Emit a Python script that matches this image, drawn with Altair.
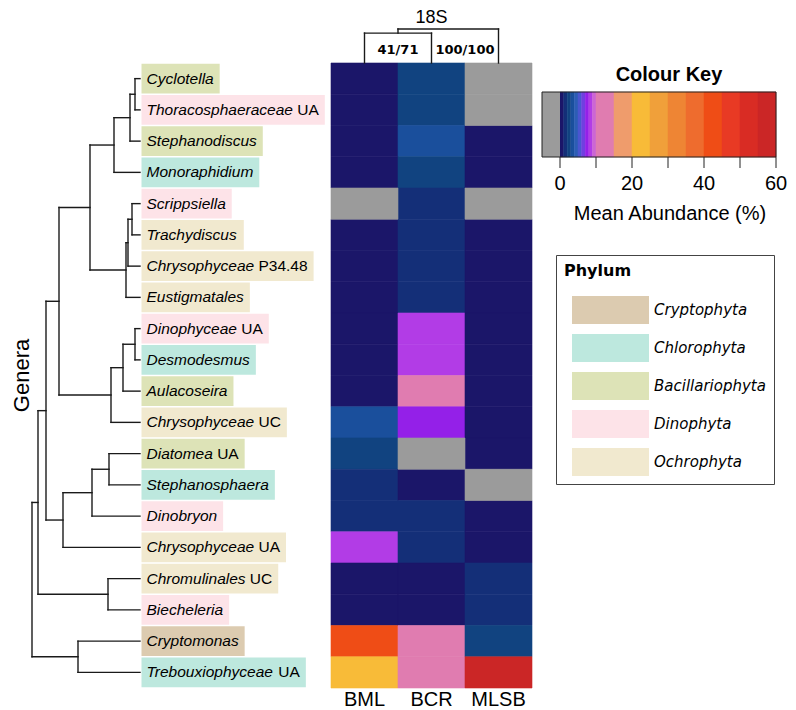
import altair as alt
import pandas as pd

# ---------------- data ----------------
genera = ["Cyclotella", "Thoracosphaeraceae", "Stephanodiscus", "Monoraphidium",
          "Scrippsiella", "Trachydiscus", "Chrysophyceae", "Eustigmatales",
          "Dinophyceae", "Desmodesmus", "Aulacoseira", "Chrysophyceae",
          "Diatomea", "Stephanosphaera", "Dinobryon", "Chrysophyceae",
          "Chromulinales", "Biecheleria", "Cryptomonas", "Trebouxiophyceae"]
suffixes = ["", "UA", "", "", "", "", "P34.48", "", "UA", "", "", "UC",
            "UA", "", "", "UA", "UC", "", "", "UA"]
genus_phylum = ["Bacillariophyta", "Dinophyta", "Bacillariophyta", "Chlorophyta",
                "Dinophyta", "Ochrophyta", "Ochrophyta", "Ochrophyta",
                "Dinophyta", "Chlorophyta", "Bacillariophyta", "Ochrophyta",
                "Bacillariophyta", "Chlorophyta", "Dinophyta", "Ochrophyta",
                "Ochrophyta", "Dinophyta", "Cryptophyta", "Chlorophyta"]

phyla = ["Cryptophyta", "Chlorophyta", "Bacillariophyta", "Dinophyta", "Ochrophyta"]
phylum_colors = ["#dccbb0", "#bde8de", "#dde3b7", "#fde3e8", "#f1e9cf"]

samples = ["BML", "BCR", "MLSB"]
# mean abundance (%) per genus, None = not detected (grey)
BML = [0.5, 0.5, 0.5, 0.5, None, 0.5, 0.5, 0.5, 0.5, 0.5,
       0.5, 3.5, 2.5, 1.5, 1.5, 8.5, 0.5, 0.5, 42, 22]
BCR = [2.5, 2.5, 3.5, 2.5, 1.5, 1.5, 1.5, 1.5, 8.5, 8.5,
       12, 7.5, None, 0.5, 1.5, 1.5, 0.5, 0.5, 12, 12]
MLSB = [None, None, 0.5, 0.5, None, 0.5, 0.5, 0.5, 0.5, 0.5,
        0.5, 0.5, 0.5, None, 0.5, 0.5, 1.5, 1.5, 2.5, 57]

# row dendrogram merges: (left, right, height); ints = leaves, "nK" = K-th merge
row_merges = [(0, 1, 0.05), ("n0", 2, 0.10), ("n1", 3, 0.26),
              (4, 5, 0.08), ("n3", 6, 0.12), ("n4", 7, 0.14),
              ("n2", "n5", 0.50),
              (8, 9, 0.05), ("n7", 10, 0.17), ("n8", 11, 0.29),
              ("n6", "n9", 0.81),
              (12, 13, 0.31), ("n11", 14, 0.48), ("n12", 15, 0.77),
              ("n10", "n13", 0.94),
              (16, 17, 0.32), ("n14", "n15", 1.02),
              (18, 19, 0.62), ("n16", "n17", 1.08)]

# column dendrogram merges and bootstrap supports
col_merges = [(0, 1, 0.88), ("n0", 2, 1.00)]
col_support = ["41/71", "100/100"]

# colour key breaks and colours
key_breaks = [0, 1, 2, 3, 4, 5, 6, 7, 8, 9, 10, 15, 20, 25, 30, 35, 40, 45, 50, 55, 60]
key_colors = ["#1b1669", "#142f78", "#114380", "#1a4f9c", "#2c5db4", "#4a56d0",
              "#7040e0", "#9420e8", "#b23ce6", "#cc66d4", "#e07cb0", "#ef9c6c",
              "#f8bb38", "#f0a03a", "#ee8534", "#ee6c2e", "#ef4d16", "#e83a24",
              "#d92c24", "#cb2626"]
key_ticks = [0, 10, 20, 30, 40, 50, 60]
key_labels = [0, 20, 40, 60]
NA_COLOR = "#9b9b9b"

# ---------------- layout constants ----------------
FONT = "Liberation Sans, Arial, Helvetica, sans-serif"
NROW = len(genera)
ROW_PX = 31.25
TOP_PX = 55
PANEL_H = 700
W_DEND, W_LAB, W_HEAT, W_RIGHT = 133, 190, 201, 256
LABEL_FS = 15.5

y_lo = -TOP_PX / ROW_PX
y_hi = y_lo + PANEL_H / ROW_PX
YS = alt.Scale(domain=[y_lo, y_hi], reverse=True, nice=False, zero=False)

# Helvetica / Arial advance widths (1/1000 em)
CW = dict(zip("ABCDEFGHIJKLMNOPQRSTUVWXYZ",
              [667, 667, 722, 722, 667, 611, 778, 722, 278, 500, 667, 556, 833,
               722, 778, 667, 778, 722, 667, 611, 722, 667, 944, 667, 667, 611]))
CW.update(dict(zip("abcdefghijklmnopqrstuvwxyz",
                   [556, 556, 500, 556, 556, 278, 556, 556, 222, 222, 500, 222, 833,
                    556, 556, 556, 556, 333, 500, 278, 556, 500, 722, 500, 500, 500])))
CW.update({" ": 278, ".": 278})
CW.update({d: 556 for d in "0123456789"})


def text_width(s, size):
    return sum(CW.get(c, 556) for c in s) * size / 1000.0


def dendro_segments(merges, n_leaves):
    pos = {i: (i + 0.5, 0.0) for i in range(n_leaves)}
    leaves = {i: [i] for i in range(n_leaves)}
    segs, nodes = [], []
    for k, (a, b, h) in enumerate(merges):
        (pa, ha), (pb, hb) = pos[a], pos[b]
        segs.append(dict(h1=ha, h2=h, p1=pa, p2=pa))
        segs.append(dict(h1=hb, h2=h, p1=pb, p2=pb))
        segs.append(dict(h1=h, h2=h, p1=pa, p2=pb))
        name = f"n{k}"
        pos[name] = ((pa + pb) / 2, h)
        leaves[name] = leaves[a] + leaves[b]
        nodes.append(dict(h=h, split=min(leaves[b])))
    return pd.DataFrame(segs), pd.DataFrame(nodes)


# ---------------- left: row dendrogram ----------------
DX = alt.Scale(domain=[-0.01, 1.32], reverse=True, nice=False, zero=False)
row_segs, _ = dendro_segments(row_merges, NROW)

dend = alt.Chart(row_segs).mark_rule(color="#1a1a1a", strokeWidth=1.4, strokeCap="square").encode(
    x=alt.X("h1:Q", scale=DX, axis=None), x2="h2:Q",
    y=alt.Y("p1:Q", scale=YS, axis=None), y2="p2:Q")

genera_title = alt.Chart(pd.DataFrame({"t": ["Genera"], "y": [NROW / 2]})).mark_text(
    angle=270, fontSize=22, font=FONT, baseline="alphabetic", align="center", color="black"
).encode(x=alt.value(21), y=alt.Y("y:Q", scale=YS, axis=None), text="t:N")

dend_panel = alt.layer(dend, genera_title).properties(width=W_DEND, height=PANEL_H)

# ---------------- labels with phylum boxes ----------------
LX = alt.Scale(domain=[0, W_LAB], nice=False, zero=False)
rows = []
for i, (g, s, p) in enumerate(zip(genera, suffixes, genus_phylum)):
    full = g + (" " + s if s else "")
    rows.append(dict(name=g, suffix=s, phylum=p,
                     x0=0.5, x1=5.5 + text_width(full, LABEL_FS) + 6,
                     tx=5.5, sx=5.5 + text_width(g + " ", LABEL_FS),
                     y0=i + 0.025, y1=i + 0.975, yc=i + 0.5))
lab_df = pd.DataFrame(rows)

boxes = alt.Chart(lab_df).mark_rect().encode(
    x=alt.X("x0:Q", scale=LX, axis=None), x2="x1:Q",
    y=alt.Y("y0:Q", scale=YS, axis=None), y2="y1:Q",
    color=alt.Color("phylum:N", scale=alt.Scale(domain=phyla, range=phylum_colors),
                    legend=alt.Legend(
                        orient="none", legendX=415, legendY=247,
                        title="Phylum", titleFont="DejaVu Sans", titleFontSize=16,
                        titleFontWeight="bold", titleColor="black", titlePadding=17,
                        labelFont="DejaVu Sans", labelFontSize=15, labelFontStyle="italic",
                        labelColor="black", labelOffset=5,
                        symbolType="M-1,-0.3636L1,-0.3636L1,0.3636L-1,0.3636Z",
                        symbolSize=5929, symbolStrokeWidth=0, symbolOpacity=1,
                        symbolOffset=8, clipHeight=28, rowPadding=10,
                        padding=8, strokeColor="#444444", fillColor="white")))

names = alt.Chart(lab_df).mark_text(
    align="left", baseline="middle", fontStyle="italic", fontSize=LABEL_FS, font=FONT, color="black"
).encode(x=alt.X("tx:Q", scale=LX, axis=None), y=alt.Y("yc:Q", scale=YS, axis=None), text="name:N")

sufs = alt.Chart(lab_df).transform_filter("datum.suffix != ''").mark_text(
    align="left", baseline="middle", fontSize=LABEL_FS, font=FONT, color="black"
).encode(x=alt.X("sx:Q", scale=LX, axis=None), y=alt.Y("yc:Q", scale=YS, axis=None), text="suffix:N")

lab_panel = alt.layer(boxes, names, sufs).properties(width=W_LAB, height=PANEL_H)

# ---------------- heatmap ----------------
HX = alt.Scale(domain=[0, len(samples)], nice=False, zero=False)
cells = []
for c, (sname, vals) in enumerate(zip(samples, [BML, BCR, MLSB])):
    for r, v in enumerate(vals):
        cells.append(dict(sample=sname, genus=genera[r], value=v,
                          x0=c, x1=c + 1, y0=r, y1=r + 1))
heat_df = pd.DataFrame(cells)

thr_scale = alt.Scale(type="threshold", domain=key_breaks[1:-1], range=key_colors)

heat = alt.Chart(heat_df).transform_filter("isValid(datum.value)").mark_rect(strokeWidth=0.6).encode(
    x=alt.X("x0:Q", scale=HX, axis=None), x2="x1:Q",
    y=alt.Y("y0:Q", scale=YS, axis=None), y2="y1:Q",
    color=alt.Color("value:Q", scale=thr_scale, legend=None),
    stroke=alt.Stroke("value:Q", scale=thr_scale, legend=None))

heat_na = alt.Chart(heat_df).transform_filter("!isValid(datum.value)").mark_rect(
    color=NA_COLOR, stroke=NA_COLOR, strokeWidth=0.6
).encode(x=alt.X("x0:Q", scale=HX, axis=None), x2="x1:Q",
         y=alt.Y("y0:Q", scale=YS, axis=None), y2="y1:Q")

col_lab_df = pd.DataFrame({"s": samples, "x": [c + 0.5 for c in range(len(samples))],
                           "y": [NROW] * len(samples)})
col_labels = alt.Chart(col_lab_df).mark_text(
    fontSize=20, font=FONT, baseline="middle", dy=12, color="black"
).encode(x=alt.X("x:Q", scale=HX, axis=None), y=alt.Y("y:Q", scale=YS, axis=None), text="s:N")

COL_H_ROWS = 34 / ROW_PX  # one height unit of the sample tree, in rows
col_segs, col_nodes = dendro_segments(col_merges, len(samples))
col_segs["y1"] = -col_segs["h1"] * COL_H_ROWS
col_segs["y2"] = -col_segs["h2"] * COL_H_ROWS
col_dend = alt.Chart(col_segs).mark_rule(color="#1a1a1a", strokeWidth=1.4, strokeCap="square").encode(
    x=alt.X("p1:Q", scale=HX, axis=None), x2="p2:Q",
    y=alt.Y("y1:Q", scale=YS, axis=None), y2="y2:Q")

sup_df = pd.DataFrame({"t": col_support, "x": col_nodes["split"].astype(float), "y": [0.0] * len(col_support)})
supports = alt.Chart(sup_df).mark_text(
    font="DejaVu Sans", fontWeight="bold", fontSize=13, baseline="middle", dy=-13, color="black"
).encode(x=alt.X("x:Q", scale=HX, axis=None), y=alt.Y("y:Q", scale=YS, axis=None), text="t:N")

gene_df = pd.DataFrame({"t": ["18S"], "x": [len(samples) / 2], "y": [0.0]})
gene_title = alt.Chart(gene_df).mark_text(
    font=FONT, fontSize=18, baseline="middle", dy=-45, color="black"
).encode(x=alt.X("x:Q", scale=HX, axis=None), y=alt.Y("y:Q", scale=YS, axis=None), text="t:N")

heat_panel = alt.layer(heat, heat_na, col_labels, col_dend, supports, gene_title).properties(
    width=W_HEAT, height=PANEL_H)

# ---------------- right: colour key ----------------
KEY_LEFT_PX, KEY_RIGHT_PX = 10, 244   # key bar extent inside the right panel
PPU = (KEY_RIGHT_PX - KEY_LEFT_PX) / 65.0
KX = alt.Scale(domain=[-5 - KEY_LEFT_PX / PPU, -5 + (W_RIGHT - KEY_LEFT_PX) / PPU],
               nice=False, zero=False)
KEY_TOP, KEY_BOT = 84, 149

key_df = pd.DataFrame({"lo": key_breaks[:-1], "hi": key_breaks[1:]})
key_df["mid"] = (key_df["lo"] + key_df["hi"]) / 2
key_bins = alt.Chart(key_df).mark_rect(strokeWidth=0.5).encode(
    x=alt.X("lo:Q", scale=KX, axis=None), x2="hi:Q",
    y=alt.value(KEY_TOP), y2=alt.value(KEY_BOT),
    color=alt.Color("mid:Q", scale=thr_scale, legend=None),
    stroke=alt.Stroke("mid:Q", scale=thr_scale, legend=None))

na_df = pd.DataFrame({"lo": [-5], "hi": [0]})
key_na = alt.Chart(na_df).mark_rect(color=NA_COLOR).encode(
    x=alt.X("lo:Q", scale=KX, axis=None), x2="hi:Q",
    y=alt.value(KEY_TOP), y2=alt.value(KEY_BOT))

frame_df = pd.DataFrame({"lo": [-5], "hi": [key_breaks[-1]]})
key_frame = alt.Chart(frame_df).mark_rect(fillOpacity=0, stroke="#222222", strokeWidth=1).encode(
    x=alt.X("lo:Q", scale=KX, axis=None), x2="hi:Q",
    y=alt.value(KEY_TOP), y2=alt.value(KEY_BOT))

ticks = alt.Chart(pd.DataFrame({"t": key_ticks})).mark_rule(color="#222222", strokeWidth=1).encode(
    x=alt.X("t:Q", scale=KX, axis=None), y=alt.value(KEY_BOT), y2=alt.value(KEY_BOT + 11))

tick_labels = alt.Chart(pd.DataFrame({"t": key_labels})).mark_text(
    font=FONT, fontSize=20, baseline="middle", color="black"
).encode(x=alt.X("t:Q", scale=KX, axis=None), y=alt.value(176), text="t:Q")

key_title = alt.Chart(pd.DataFrame({"t": ["Colour Key"]})).mark_text(
    font=FONT, fontSize=20, fontWeight="bold", baseline="middle", color="black"
).encode(x=alt.value(137), y=alt.value(67), text="t:N")

key_axis_title = alt.Chart(pd.DataFrame({"t": ["Mean Abundance (%)"]})).mark_text(
    font=FONT, fontSize=20, baseline="middle", color="black"
).encode(x=alt.value(138), y=alt.value(206), text="t:N")

right_panel = alt.layer(key_bins, key_na, key_frame, ticks, tick_labels, key_title,
                        key_axis_title).properties(width=W_RIGHT, height=PANEL_H)

chart = alt.hconcat(dend_panel, lab_panel, heat_panel, right_panel).resolve_scale(
    x="independent", y="independent", color="independent", stroke="independent"
).properties(spacing=0, bounds="flush", padding=0).configure_view(stroke=None)

chart.save("out.html", embed_options={"renderer": "svg", "actions": False})
